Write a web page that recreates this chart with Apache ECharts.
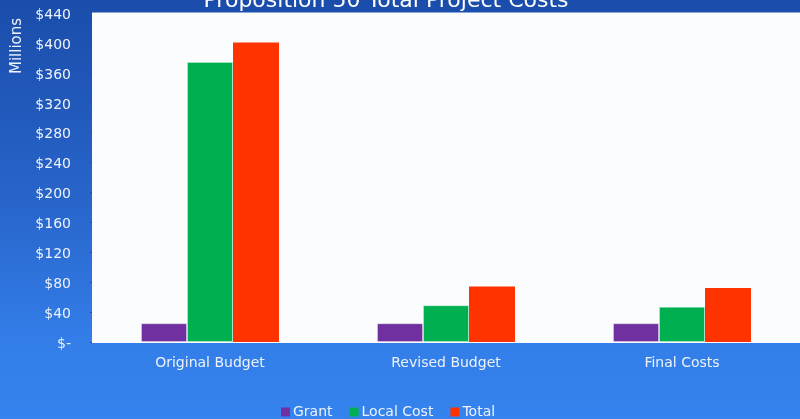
<!DOCTYPE html>
<html>
<head>
<meta charset="utf-8">
<script src="https://cdn.jsdelivr.net/npm/echarts@6/dist/echarts.min.js"></script>
<style>
html,body{margin:0;padding:0;}
#chart{width:800px;height:419px;}
</style>
</head>
<body>
<div id="chart"></div>
<script>
const categories = ['Original Budget', 'Revised Budget', 'Final Costs'];
const grant = [25, 25, 25];
const localCost = [374, 49, 47];
const total = [400, 74, 72];
const seriesNames = ['Grant', 'Local Cost', 'Total'];
const titleText = 'Proposition 50 Total Project Costs';
const axisName = 'Millions';

const FONT = '"DejaVu Sans", sans-serif';
const TXT = '#eef2fb';

const chart = echarts.init(document.getElementById('chart'));
chart.setOption({
  animation: false,
  backgroundColor: {
    type: 'linear', x: 0, y: 0, x2: 0, y2: 1,
    colorStops: [
      { offset: 0, color: '#1a4dab' },
      { offset: 0.45, color: '#2763c8' },
      { offset: 0.82, color: '#337ee9' },
      { offset: 1, color: '#3583ee' }
    ]
  },
  textStyle: { fontFamily: FONT },
  graphic: [
    {
      type: 'text', x: 386, y: -10,
      style: { text: titleText, fill: '#ffffff', font: '22px ' + FONT, align: 'center', verticalAlign: 'top' }
    },
    {
      type: 'text', x: 17, y: 46, rotation: Math.PI / 2,
      style: { text: axisName, fill: TXT, font: '15px ' + FONT, align: 'center', verticalAlign: 'middle' }
    }
  ],
  legend: {
    top: 405,
    left: 281,
    padding: 0,
    itemWidth: 9,
    itemHeight: 9,
    itemGap: 17,
    icon: 'rect',
    itemStyle: { borderWidth: 0 },
    textStyle: { color: TXT, fontSize: 14, fontFamily: FONT, padding: [0, 0, 0, -2] },
    data: seriesNames
  },
  grid: {
    left: 92, right: 0, top: 12.5, bottom: 77,
    show: true, backgroundColor: '#fbfcfe', borderWidth: 0,
    containLabel: false
  },
  xAxis: {
    type: 'category',
    data: categories,
    axisLine: { show: true, lineStyle: { color: '#fbfcfe', width: 1 } },
    axisTick: { show: false },
    axisLabel: { color: TXT, fontSize: 14, fontFamily: FONT, margin: 14 }
  },
  yAxis: {
    type: 'value',
    min: 0, max: 440, interval: 40,
    splitLine: { show: false },
    axisLine: { show: false },
    axisTick: { show: true, length: 2, lineStyle: { color: '#254a94' } },
    axisLabel: {
      color: TXT, fontSize: 14, fontFamily: FONT, margin: 21,
      verticalAlign: 'top', lineHeight: 5,
      formatter: v => v === 0 ? '$-' : '$' + v
    }
  },
  series: [
    { name: seriesNames[0], type: 'bar', data: grant, barWidth: 46, barGap: '0%',
      itemStyle: { color: '#7030a0', borderColor: 'rgba(255,255,255,0.3)', borderWidth: 1 } },
    { name: seriesNames[1], type: 'bar', data: localCost, barWidth: 46, barGap: '0%',
      itemStyle: { color: '#00b050', borderColor: 'rgba(255,255,255,0.3)', borderWidth: 1 } },
    { name: seriesNames[2], type: 'bar', data: total, barWidth: 46, barGap: '0%',
      itemStyle: { color: '#ff3300' } }
  ]
});
</script>
</body>
</html>
